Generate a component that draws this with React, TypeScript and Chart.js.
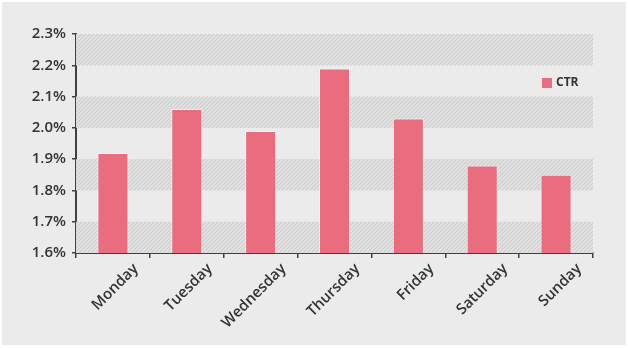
import React, { useEffect, useRef } from "react";
import { Chart, registerables } from "chart.js";

Chart.register(...registerables);

const categories = ["Monday", "Tuesday", "Wednesday", "Thursday", "Friday", "Saturday", "Sunday"];
const ctrValues = [1.92, 2.06, 1.99, 2.19, 2.03, 1.88, 1.85];
const seriesName = "CTR";
const yMin = 1.6;
const yMax = 2.3;
const yStep = 0.1;
const hatchedBands = [[1.6, 1.7], [1.8, 1.9], [2.0, 2.1], [2.2, 2.3]];

const FONT = "'Open Sans', 'DejaVu Sans', sans-serif";
const BAR_COLOR = "#e96c7f";
const TEXT_COLOR = "#333333";
const AXIS_COLOR = "#404040";

function makePattern(): CanvasPattern | string {
  const c = document.createElement("canvas");
  c.width = 4;
  c.height = 4;
  const g = c.getContext("2d");
  if (!g) return "#dcdcdc";
  g.fillStyle = "#e3e3e3";
  g.fillRect(0, 0, 4, 4);
  g.strokeStyle = "#cdcdcd";
  g.lineWidth = 1.2;
  g.beginPath();
  g.moveTo(-1, 5);
  g.lineTo(5, -1);
  g.moveTo(-1, 1);
  g.lineTo(1, -1);
  g.moveTo(3, 5);
  g.lineTo(5, 3);
  g.stroke();
  const p = g.createPattern(c, "repeat");
  return p || "#dcdcdc";
}

const bgPlugin = {
  id: "panelBg",
  beforeDraw(chart: any) {
    const { ctx, width, height } = chart;
    ctx.save();
    ctx.fillStyle = "#ffffff";
    ctx.fillRect(0, 0, width, height);
    ctx.fillStyle = "#ebebeb";
    ctx.fillRect(2, 2, width - 4, height - 5);
    ctx.restore();
  },
  beforeDatasetsDraw(chart: any) {
    const { ctx, chartArea } = chart;
    const y = chart.scales.y;
    const pat = makePattern();
    ctx.save();
    ctx.fillStyle = pat;
    hatchedBands.forEach(([a, b]) => {
      const top = y.getPixelForValue(b);
      const bot = y.getPixelForValue(a);
      ctx.fillRect(chartArea.left, top, chartArea.right - chartArea.left, bot - top);
    });
    ctx.restore();
  },
  afterDraw(chart: any) {
    const { ctx, chartArea } = chart;
    ctx.save();
    const lx = chartArea.right - 51;
    const ly = chartArea.top + 44;
    ctx.fillStyle = BAR_COLOR;
    ctx.fillRect(lx, ly, 10, 10);
    ctx.fillStyle = TEXT_COLOR;
    ctx.font = `700 12px ${FONT}`;
    ctx.textAlign = "left";
    ctx.textBaseline = "middle";
    ctx.fillText(seriesName, lx + 14, ly + 5);
    ctx.restore();
  },
};

export default function App() {
  const ref = useRef<HTMLCanvasElement | null>(null);
  useEffect(() => {
    if (!ref.current) return;
    const chart = new Chart(ref.current, {
      type: "bar",
      data: {
        labels: categories,
        datasets: [
          {
            label: seriesName,
            data: ctrValues,
            backgroundColor: BAR_COLOR,
            borderColor: "rgba(255,255,255,0.5)",
            borderWidth: 1,
            categoryPercentage: 0.42,
            barPercentage: 1,
          },
        ],
      },
      options: {
        responsive: false,
        animation: false,
        layout: { padding: { left: 0, top: 34, right: 35, bottom: 0 } },
        plugins: { legend: { display: false }, tooltip: { enabled: false } },
        scales: {
          x: {
            grid: {
              display: true,
              drawOnChartArea: false,
              drawTicks: true,
              tickLength: 5,
              color: AXIS_COLOR,
              lineWidth: 1.5,
            },
            border: { display: true, color: AXIS_COLOR, width: 2 },
            ticks: {
              color: TEXT_COLOR,
              font: { family: FONT, size: 15, weight: "600" },
              minRotation: 45,
              maxRotation: 45,
              labelOffset: 23,
              padding: 2,
            },
            afterFit(scale: any) {
              scale.height = 95;
            },
          },
          y: {
            min: yMin,
            max: yMax,
            grid: {
              display: true,
              drawOnChartArea: false,
              drawTicks: true,
              tickLength: 4,
              color: AXIS_COLOR,
              lineWidth: 1.5,
            },
            border: { display: true, color: AXIS_COLOR, width: 2 },
            ticks: {
              stepSize: yStep,
              color: TEXT_COLOR,
              padding: 6,
              font: { family: FONT, size: 15, weight: "600" },
              callback: (v: any) => Number(v).toFixed(1) + "%",
            },
            afterFit(scale: any) {
              scale.width = 76;
            },
          },
        },
      },
      plugins: [bgPlugin],
    } as any);
    return () => chart.destroy();
  }, []);
  return (
    <div style={{ position: "fixed", left: 0, top: 0, width: 628, height: 348 }}>
      <canvas ref={ref} width={628} height={348} />
    </div>
  );
}
